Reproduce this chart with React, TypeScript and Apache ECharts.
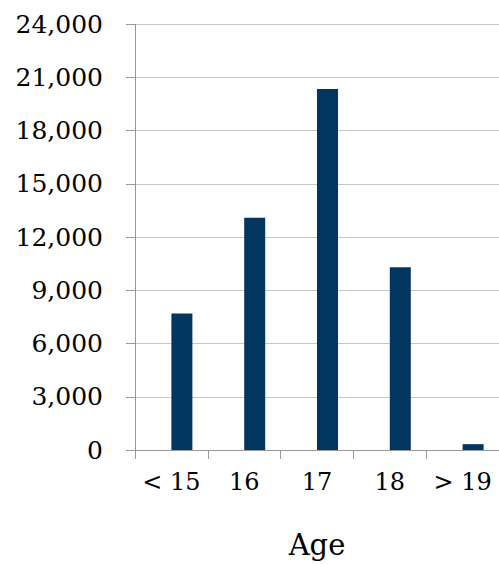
import React, { useEffect, useRef } from "react";
import * as echarts from "echarts";

const categories = ["< 15", "16", "17", "18", "> 19"];
const counts = [7700, 13100, 20350, 10300, 330];
const emptySeries = [null, null, null, null, null];
const yTicks = { min: 0, max: 24000, interval: 3000 };

const FONT = "DejaVu Serif";

export default function App() {
  const ref = useRef<HTMLDivElement>(null);
  useEffect(() => {
    if (!ref.current) return;
    const chart = echarts.init(ref.current, null, { renderer: "svg" });
    chart.setOption({
      animation: false,
      textStyle: { fontFamily: FONT },
      grid: { left: 135, right: -2.5, top: 24.3, bottom: 105 },
      xAxis: {
        type: "category",
        data: categories,
        name: "Age",
        nameLocation: "middle",
        nameGap: 80,
        nameTextStyle: { fontFamily: FONT, fontSize: 29, color: "#000" },
        axisLine: { show: true, lineStyle: { color: "#999", width: 1 } },
        axisTick: { show: true, length: 9, interval: 0, lineStyle: { color: "#999" } },
        axisLabel: {
          fontFamily: FONT,
          fontSize: 24,
          color: "#000",
          margin: 20,
          interval: 0,
          hideOverlap: false,
        },
      },
      yAxis: {
        type: "value",
        min: yTicks.min,
        max: yTicks.max,
        interval: yTicks.interval,
        axisLine: { show: true, lineStyle: { color: "#999", width: 1 } },
        axisTick: { show: true, length: 9, lineStyle: { color: "#999" } },
        splitLine: { show: true, lineStyle: { color: "#c6c6c6", width: 1 } },
        axisLabel: {
          fontFamily: FONT,
          fontSize: 25,
          color: "#000",
          margin: 32,
          formatter: (v: number) => v.toLocaleString("en-US"),
        },
      },
      series: [
        {
          type: "bar",
          data: emptySeries,
          barWidth: 21,
          barGap: "0%",
          itemStyle: { color: "transparent" },
        },
        {
          type: "bar",
          data: counts,
          barWidth: 21,
          barGap: "0%",
          itemStyle: { color: "#003660" },
        },
      ],
    });
    return () => chart.dispose();
  }, []);
  return (
    <div
      ref={ref}
      style={{ position: "fixed", left: 0, top: 0, width: 499, height: 564, background: "#fff" }}
    />
  );
}
